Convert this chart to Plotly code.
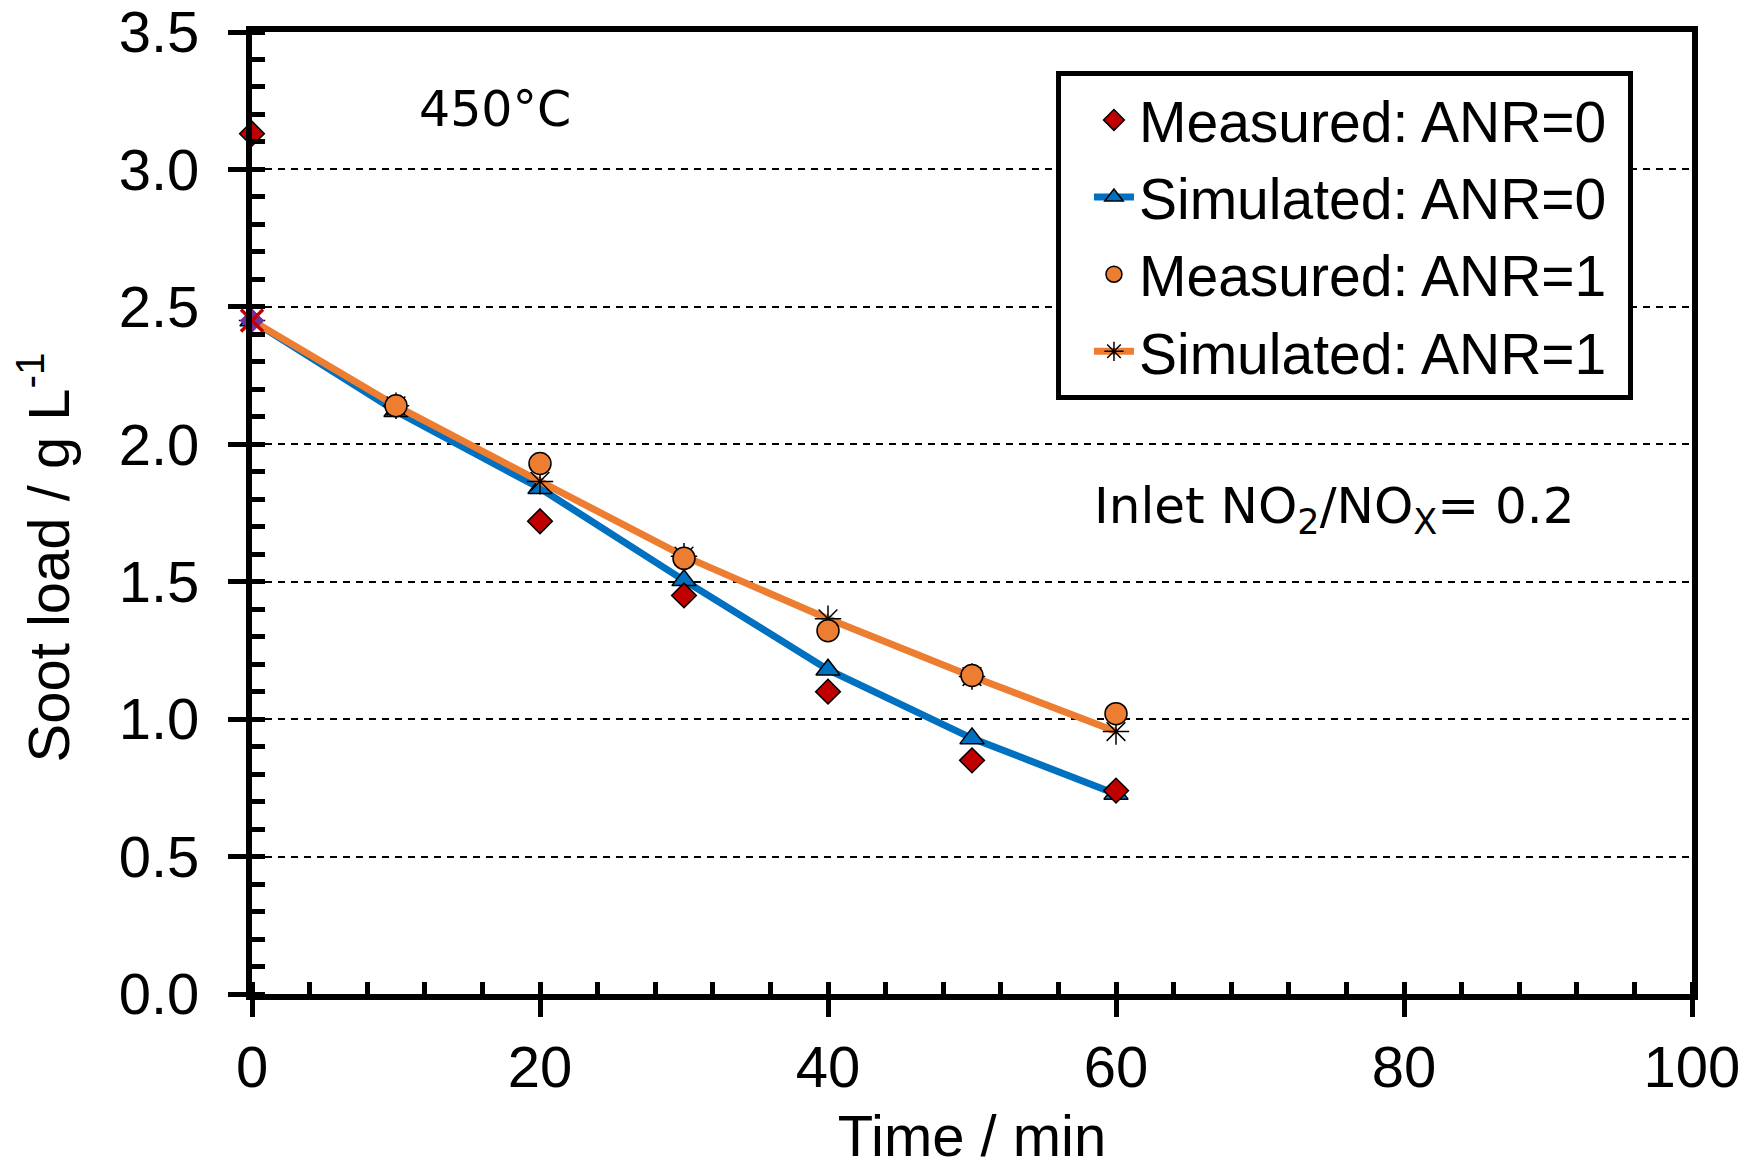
import plotly.graph_objects as go

# ---- data ----
time_min = [0, 10, 20, 30, 40, 50, 60]
meas_anr0_t = [0, 20, 30, 40, 50, 60]
meas_anr0 = [3.13, 1.72, 1.45, 1.10, 0.85, 0.74]
sim_anr0 = [2.45, 2.12, 1.84, 1.505, 1.18, 0.93, 0.728]
meas_anr1_t = [10, 20, 30, 40, 50, 60]
meas_anr1 = [2.14, 1.93, 1.585, 1.322, 1.159, 1.02]
sim_anr1 = [2.45, 2.14, 1.865, 1.593, 1.365, 1.155, 0.955]
initial_t = [0]
initial_load = [2.45]

x_ticks = [0, 20, 40, 60, 80, 100]
y_ticks = [0.0, 0.5, 1.0, 1.5, 2.0, 2.5, 3.0, 3.5]

RED = "#C00000"
BLUE = "#0070C0"
ORANGE = "#ED7D31"
PURPLE = "#7030A0"
ARIAL = "Liberation Sans, Arial, sans-serif"
VERDANA = "DejaVu Sans, Verdana, sans-serif"
NBSP = "\u00a0"

fig = go.Figure()

fig.add_trace(go.Scatter(
    x=time_min, y=sim_anr0, mode="lines+markers", name="Simulated: ANR=0" + NBSP,
    legendrank=2, cliponaxis=False,
    line=dict(color=BLUE, width=7),
    marker=dict(symbol="triangle-up", size=21, color=BLUE,
                line=dict(color="black", width=1.5)),
))
fig.add_trace(go.Scatter(
    x=time_min, y=sim_anr1, mode="lines+markers", name="Simulated: ANR=1" + NBSP,
    legendrank=4, cliponaxis=False,
    line=dict(color=ORANGE, width=7),
    marker=dict(symbol="asterisk-open", size=22, color="black",
                line=dict(color="black", width=1.5)),
))
fig.add_trace(go.Scatter(
    x=meas_anr0_t, y=meas_anr0, mode="markers", name="Measured: ANR=0" + NBSP,
    legendrank=1, cliponaxis=False,
    marker=dict(symbol="diamond", size=19, color=RED,
                line=dict(color="black", width=1.5)),
))
fig.add_trace(go.Scatter(
    x=meas_anr1_t, y=meas_anr1, mode="markers", name="Measured: ANR=1" + NBSP,
    legendrank=3, cliponaxis=False,
    marker=dict(symbol="circle", size=22, color=ORANGE,
                line=dict(color="black", width=1.5)),
))
fig.add_trace(go.Scatter(
    x=initial_t, y=initial_load, mode="markers", showlegend=False,
    cliponaxis=False,
    marker=dict(symbol="diamond", size=18, color=PURPLE,
                line=dict(color=PURPLE, width=1)),
))
fig.add_trace(go.Scatter(
    x=initial_t, y=initial_load, mode="markers", showlegend=False,
    cliponaxis=False,
    marker=dict(symbol="x-thin-open", size=22, color=RED,
                line=dict(color=RED, width=3.5)),
))

axis_common = dict(
    showline=True, linecolor="black", linewidth=6, mirror=True,
    ticks="outside", tickcolor="black", tickwidth=5,
    tickfont=dict(family=ARIAL, size=58, color="black"),
    ticklabeloverflow="allow", automargin=False,
    zeroline=False,
)

fig.update_layout(
    width=1749, height=1168,
    margin=dict(l=252, r=57, t=32, b=174),
    paper_bgcolor="white", plot_bgcolor="white",
    showlegend=True,
    xaxis=dict(
        **axis_common,
        range=[0, 100], tickvals=x_ticks, ticklen=17,
        showgrid=False,
        minor=dict(dtick=4, ticks="inside", ticklen=12, tickwidth=5,
                   tickcolor="black", showgrid=False),
        title=dict(text="Time / min", font=dict(family=ARIAL, size=58, color="black"),
                   standoff=29),
    ),
    yaxis=dict(
        **axis_common,
        range=[0, 3.5], tickvals=y_ticks, tickformat=".1f", ticklen=18,
        ticklabelstandoff=17,
        showgrid=True, gridcolor="black", gridwidth=1.8, griddash="7px,6px",
        minor=dict(dtick=0.1, ticks="inside", ticklen=13, tickwidth=5,
                   tickcolor="black", showgrid=False),
    ),
    xaxis2=dict(overlaying="x", anchor="y", side="bottom", range=[0, 100],
                tickvals=x_ticks, ticks="inside", ticklen=17, tickwidth=5,
                tickcolor="black", showticklabels=False, showline=False,
                showgrid=False, zeroline=False, automargin=False),
    yaxis2=dict(overlaying="y", anchor="x", side="left", range=[0, 3.5],
                tickvals=y_ticks, ticks="inside", ticklen=18, tickwidth=5,
                tickcolor="black", showticklabels=False, showline=False,
                showgrid=False, zeroline=False, automargin=False),
    legend=dict(
        x=0.959, y=0.959, xanchor="right", yanchor="top",
        bgcolor="white", bordercolor="black", borderwidth=5,
        font=dict(family=ARIAL, size=57, color="black"),
        itemwidth=40, indentation=28,
    ),
    annotations=[
        dict(text="450°C", x=0.1688, y=0.919, xref="paper", yref="paper",
             showarrow=False, xanchor="center", yanchor="middle",
             font=dict(family=VERDANA, size=49, color="black")),
        dict(text="Inlet NO<sub>2</sub>/NO<sub>X</sub>= 0.2", x=0.7516, y=0.504,
             xref="paper", yref="paper", showarrow=False,
             xanchor="center", yanchor="middle",
             font=dict(family=VERDANA, size=50, color="black")),
        dict(text="Soot load / g L<sup>-1</sup>", x=-0.1449, y=0.4541,
             xref="paper", yref="paper", showarrow=False, textangle=-90,
             xanchor="center", yanchor="middle",
             font=dict(family=ARIAL, size=58, color="black")),
    ],
)

fig.write_html("out.html")
